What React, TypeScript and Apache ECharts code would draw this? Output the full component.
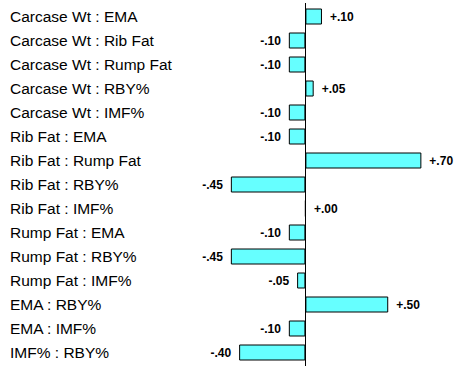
import React, { useEffect, useRef } from "react";
import * as echarts from "echarts";

const categories = [
  "Carcase Wt : EMA",
  "Carcase Wt : Rib Fat",
  "Carcase Wt : Rump Fat",
  "Carcase Wt : RBY%",
  "Carcase Wt : IMF%",
  "Rib Fat : EMA",
  "Rib Fat : Rump Fat",
  "Rib Fat : RBY%",
  "Rib Fat : IMF%",
  "Rump Fat : EMA",
  "Rump Fat : RBY%",
  "Rump Fat : IMF%",
  "EMA : RBY%",
  "EMA : IMF%",
  "IMF% : RBY%",
];

const values = [0.1, -0.1, -0.1, 0.05, -0.1, -0.1, 0.7, -0.45, 0.0, -0.1, -0.45, -0.05, 0.5, -0.1, -0.4];

const fmt = (v: number) => (v >= 0 ? "+" : "-") + Math.abs(v).toFixed(2).replace(/^0/, "");

export default function App() {
  const ref = useRef<HTMLDivElement>(null);
  useEffect(() => {
    if (!ref.current) return;
    const chart = echarts.init(ref.current, null, { renderer: "svg" });
    const gridLeft = 206;
    chart.setOption({
      animation: false,
      backgroundColor: "#ffffff",
      grid: { left: gridLeft, right: 466 - 454.5, top: 4.5, height: 360, containLabel: false },
      xAxis: {
        type: "value",
        min: -0.6,
        max: 0.9,
        show: false,
      },
      yAxis: {
        type: "category",
        data: categories,
        inverse: true,
        axisLine: { show: false, onZero: false },
        axisTick: { show: false },
        splitLine: { show: false },
        axisLabel: {
          align: "left",
          margin: gridLeft - 10,
          padding: [2, 0, 0, 0],
          fontFamily: "Liberation Sans, Arial, sans-serif",
          fontSize: 15.5,
          color: "#000000",
        },
      },
      series: [
        {
          type: "bar",
          barWidth: 16,
          data: values.map((v) => ({
            value: v,
            label: { position: v < 0 ? "left" : "right" },
          })),
          itemStyle: { color: "#66FFFF", borderColor: "#000000", borderWidth: 1 },
          label: {
            show: true,
            distance: 8,
            formatter: (p: any) => fmt(p.value),
            fontFamily: "Liberation Sans, Arial, sans-serif",
            fontSize: 12,
            fontWeight: "bold",
            color: "#000000",
          },
          markLine: {
            silent: true,
            symbol: "none",
            label: { show: false },
            lineStyle: { color: "#000000", width: 1, type: "solid" },
            data: [[{ xAxis: 0, y: 3 }, { xAxis: 0, y: 366 }]],
          },
        },
      ],
    });
    return () => chart.dispose();
  }, []);
  return <div ref={ref} style={{ width: 466, height: 380, position: "absolute", left: 0, top: 0 }} />;
}
